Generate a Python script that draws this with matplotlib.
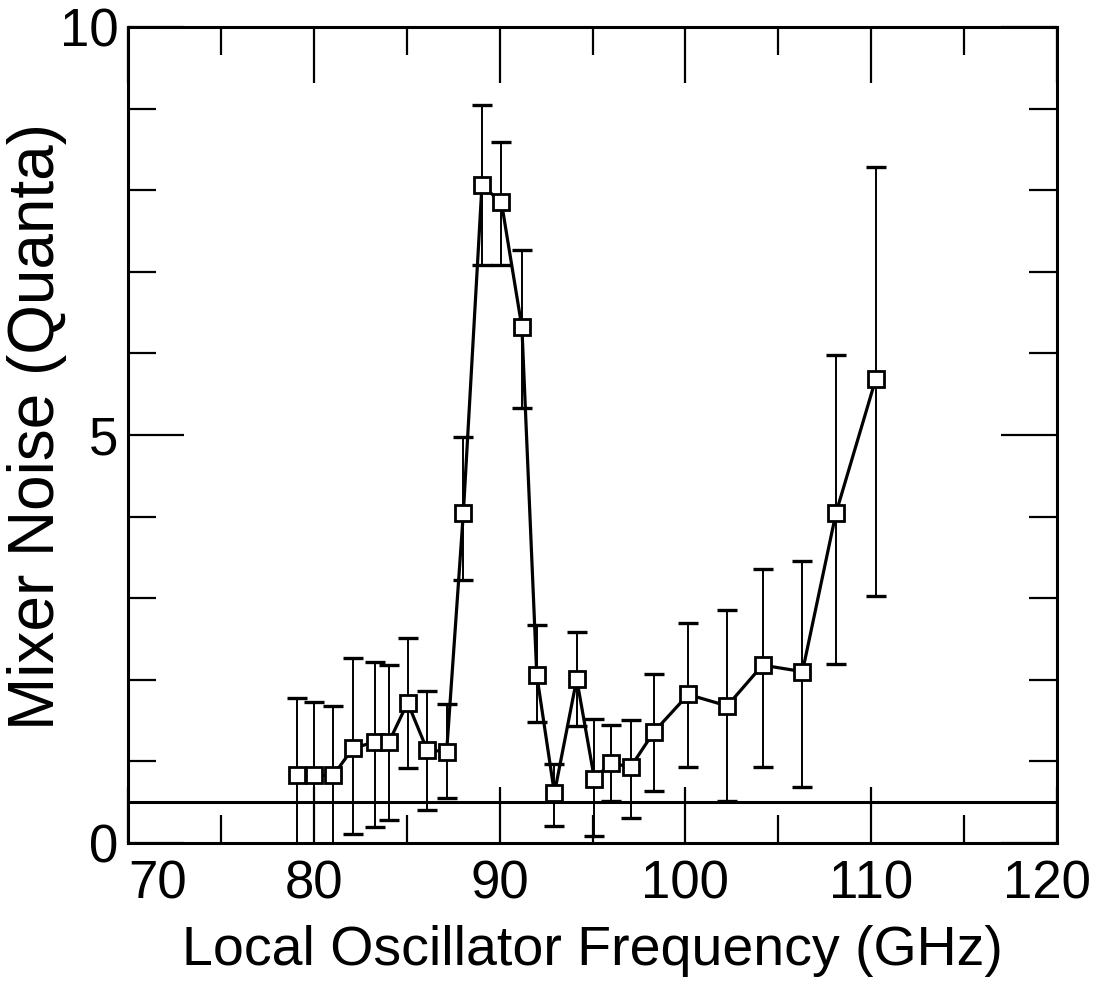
import matplotlib
matplotlib.use("Agg")
import matplotlib.pyplot as plt
from matplotlib.transforms import ScaledTranslation

# Local oscillator frequency (GHz) and measured mixer noise (quanta)
freq = [79.1, 80.0, 81.05, 82.1, 83.3, 84.05, 85.05, 86.1, 87.15, 88.05,
        89.05, 90.1, 91.2, 92.0, 92.95, 94.15, 95.1, 96.0, 97.05, 98.3,
        100.15, 102.25, 104.15, 106.3, 108.1, 110.25]
noise = [0.83, 0.83, 0.83, 1.16, 1.24, 1.24, 1.72, 1.14, 1.12, 4.05,
         8.06, 7.85, 6.32, 2.06, 0.61, 2.01, 0.79, 0.98, 0.93, 1.36,
         1.82, 1.68, 2.18, 2.10, 4.04, 5.69]
err_lo = [0.95, 0.90, 0.85, 1.05, 1.04, 0.96, 0.80, 0.74, 0.57, 0.83,
          0.98, 0.77, 0.99, 0.58, 0.40, 0.58, 0.70, 0.47, 0.62, 0.72,
          0.89, 1.17, 1.25, 1.41, 1.85, 2.66]
err_up = [0.95, 0.90, 0.85, 1.11, 0.98, 0.94, 0.79, 0.72, 0.58, 0.92,
          0.99, 0.74, 0.95, 0.61, 0.36, 0.57, 0.73, 0.46, 0.58, 0.71,
          0.88, 1.18, 1.18, 1.36, 1.94, 2.59]

# Quantum limit level
quantum_limit = 0.5

x_major = [70, 80, 90, 100, 110, 120]
x_minor = [75, 85, 95, 105, 115]
y_major = [0, 5, 10]
y_minor = [1, 2, 3, 4, 6, 7, 8, 9]

plt.rcParams["font.family"] = ["Liberation Sans", "DejaVu Sans"]

W, H = 1102, 985
fig = plt.figure(figsize=(W / 100, H / 100), dpi=100)
L, R, T, B = 128, 1057, 27, 843
ax = fig.add_axes([L / W, 1 - B / H, (R - L) / W, (B - T) / H])

ax.axhline(quantum_limit, color="black", lw=2.2, zorder=1)

ax.errorbar(freq, noise, yerr=[err_lo, err_up], fmt="none", ecolor="black",
            elinewidth=1.4, capsize=7, capthick=2.4, zorder=2)
ax.plot(freq, noise, "-", color="black", lw=2.3, marker="s", ms=12,
        mfc="white", mec="black", mew=2.0, zorder=3)

ax.set_xlim(70, 120)
ax.set_ylim(0, 10)
ax.set_xticks(x_major)
ax.set_xticks(x_minor, minor=True)
ax.set_yticks(y_major)
ax.set_yticks(y_minor, minor=True)
ax.set_xticklabels([str(v) for v in x_major])
ax.set_yticklabels([str(v) for v in y_major])

ax.tick_params(which="both", direction="in", top=True, right=True,
               width=1.6, colors="black")
ax.tick_params(which="major", length=40, labelsize=38)
ax.tick_params(axis="x", which="major", pad=12)
ax.tick_params(axis="y", which="major", pad=7)
ax.tick_params(which="minor", length=20)

for s in ax.spines.values():
    s.set_linewidth(2.2)

# keep the end labels clear of the corner
xl = ax.get_xticklabels()
xl[0].set_horizontalalignment("left")
xl[-1].set_transform(xl[-1].get_transform() +
                     ScaledTranslation(-10 / 100, 0, fig.dpi_scale_trans))

ax.set_xlabel("Local Oscillator Frequency (GHz)", fontsize=40, labelpad=11)
ax.set_ylabel("Mixer Noise (Quanta)", fontsize=46)
ax.yaxis.set_label_coords(-0.066, 0.51)

fig.savefig("out.png", dpi=100, facecolor="white")
